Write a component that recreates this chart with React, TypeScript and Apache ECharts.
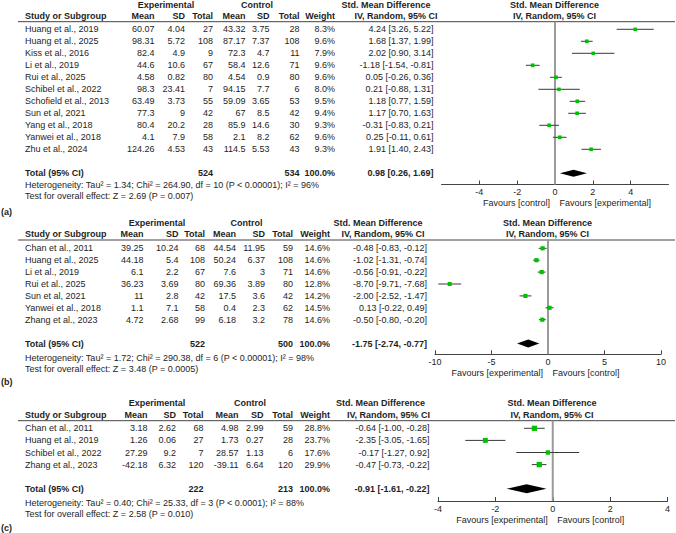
import React, { useEffect, useRef } from "react";
import * as echarts from "echarts";

// ---------- (a) ----------
const studiesA = ["Huang et al., 2019", "Huang et al., 2025", "Kiss et al., 2016", "Li et al., 2019", "Rui et al., 2025", "Schibel et al., 2022", "Schofield et al., 2013", "Sun et al, 2021", "Yang et al., 2018", "Yanwei et al., 2018", "Zhu et al., 2024"];
const expMeanA = [60.07, 98.31, 82.4, 44.6, 4.58, 98.3, 63.49, 77.3, 80.4, 4.1, 124.26];
const expSdA = [4.04, 5.72, 4.9, 10.6, 0.82, 23.41, 3.73, 9, 20.2, 7.9, 4.53];
const expNA = [27, 108, 9, 67, 80, 7, 55, 42, 28, 58, 43];
const ctlMeanA = [43.32, 87.17, 72.3, 58.4, 4.54, 94.15, 59.09, 67, 85.9, 2.1, 114.5];
const ctlSdA = [3.75, 7.37, 4.7, 12.6, 0.9, 7.7, 3.65, 8.5, 14.6, 8.2, 5.53];
const ctlNA = [28, 108, 11, 71, 80, 6, 53, 42, 30, 62, 43];
const weightA = [8.3, 9.6, 7.9, 9.6, 9.6, 8.0, 9.5, 9.4, 9.3, 9.6, 9.3];
const smdA = [4.24, 1.68, 2.02, -1.18, 0.05, 0.21, 1.18, 1.17, -0.31, 0.25, 1.91];
const lowA = [3.26, 1.37, 0.9, -1.54, -0.26, -0.88, 0.77, 0.7, -0.83, -0.11, 1.4];
const highA = [5.22, 1.99, 3.14, -0.81, 0.36, 1.31, 1.59, 1.63, 0.21, 0.61, 2.43];
const totalsA = [524, 534];
const pooledA = [0.98, 0.26, 1.69];
const hetA = "Heterogeneity: Tau\u00b2 = 1.34; Chi\u00b2 = 264.90, df = 10 (P < 0.00001); I\u00b2 = 96%";
const testA = "Test for overall effect: Z = 2.69 (P = 0.007)";
const ticksA = [-4, -2, 0, 2, 4];
const favoursA = ["Favours [control]", "Favours [experimental]"];

// ---------- (b) ----------
const studiesB = ["Chan et al., 2011", "Huang et al., 2025", "Li et al., 2019", "Rui et al., 2025", "Sun et al, 2021", "Yanwei et al., 2018", "Zhang et al., 2023"];
const expMeanB = [39.25, 44.18, 6.1, 36.23, 11, 1.1, 4.72];
const expSdB = [10.24, 5.4, 2.2, 3.69, 2.8, 7.1, 2.68];
const expNB = [68, 108, 67, 80, 42, 58, 99];
const ctlMeanB = [44.54, 50.24, 7.6, 69.36, 17.5, 0.4, 6.18];
const ctlSdB = [11.95, 6.37, 3, 3.89, 3.6, 2.3, 3.2];
const ctlNB = [59, 108, 71, 80, 42, 62, 78];
const weightB = [14.6, 14.6, 14.6, 12.8, 14.2, 14.5, 14.6];
const smdB = [-0.48, -1.02, -0.56, -8.7, -2.0, 0.13, -0.5];
const lowB = [-0.83, -1.31, -0.91, -9.71, -2.52, -0.22, -0.8];
const highB = [-0.12, -0.74, -0.22, -7.68, -1.47, 0.49, -0.2];
const totalsB = [522, 500];
const pooledB = [-1.75, -2.74, -0.77];
const hetB = "Heterogeneity: Tau\u00b2 = 1.72; Chi\u00b2 = 290.38, df = 6 (P < 0.00001); I\u00b2 = 98%";
const testB = "Test for overall effect: Z = 3.48 (P = 0.0005)";
const ticksB = [-10, -5, 0, 5, 10];
const favoursB = ["Favours [experimental]", "Favours [control]"];

// ---------- (c) ----------
const studiesC = ["Chan et al., 2011", "Huang et al., 2019", "Schibel et al., 2022", "Zhang et al., 2023"];
const expMeanC = [3.18, 1.26, 27.29, -42.18];
const expSdC = [2.62, 0.06, 9.2, 6.32];
const expNC = [68, 27, 7, 120];
const ctlMeanC = [4.98, 1.73, 28.57, -39.11];
const ctlSdC = [2.99, 0.27, 1.13, 6.64];
const ctlNC = [59, 28, 6, 120];
const weightC = [28.8, 23.7, 17.6, 29.9];
const smdC = [-0.64, -2.35, -0.17, -0.47];
const lowC = [-1.0, -3.05, -1.27, -0.73];
const highC = [-0.28, -1.65, 0.92, -0.22];
const totalsC = [222, 213];
const pooledC = [-0.91, -1.61, -0.22];
const hetC = "Heterogeneity: Tau\u00b2 = 0.40; Chi\u00b2 = 25.33, df = 3 (P < 0.0001); I\u00b2 = 88%";
const testC = "Test for overall effect: Z = 2.58 (P = 0.010)";
const ticksC = [-4, -2, 0, 2, 4];
const favoursC = ["Favours [experimental]", "Favours [control]"];

const panelTags = ["(a)", "(b)", "(c)"];

const panels = [
  { studies: studiesA, expMean: expMeanA, expSd: expSdA, expN: expNA, ctlMean: ctlMeanA, ctlSd: ctlSdA, ctlN: ctlNA, weight: weightA, smd: smdA, low: lowA, high: highA, totals: totalsA, pooled: pooledA, het: hetA, test: testA, ticks: ticksA, favours: favoursA },
  { studies: studiesB, expMean: expMeanB, expSd: expSdB, expN: expNB, ctlMean: ctlMeanB, ctlSd: ctlSdB, ctlN: ctlNB, weight: weightB, smd: smdB, low: lowB, high: highB, totals: totalsB, pooled: pooledB, het: hetB, test: testB, ticks: ticksB, favours: favoursB },
  { studies: studiesC, expMean: expMeanC, expSd: expSdC, expN: expNC, ctlMean: ctlMeanC, ctlSd: ctlSdC, ctlN: ctlNC, weight: weightC, smd: smdC, low: lowC, high: highC, totals: totalsC, pooled: pooledC, het: hetC, test: testC, ticks: ticksC, favours: favoursC },
];

// Page geometry of each panel (pixels)
const layouts = [
  { head1: 5, head2: 15.8, lineY: 21.7, row0: 29.3, step: 12, axisY: 184.5, hetY: 185, testY: 196, tagY: 211.5,
    cols: [154.5, 185, 213, 245.5, 269.5, 299.5, 335], expC: 166, ctlC: 257, smdHeadC: 386, ivHeadC: 396, smdRight: 433.5,
    plotHeadC: 554.5, gridLeft: 441.5, gridRight: 668.5, xMin: -6, xMax: 6, interval: 2, diamondH: 7 },
  { head1: 222.7, head2: 234.3, lineY: 240, row0: 248.3, step: 11.9, axisY: 354.3, hetY: 357.7, testY: 369.3, tagY: 381.7,
    cols: [143.5, 178.5, 205, 236, 265, 293, 330], expC: 157, ctlC: 246.5, smdHeadC: 378, ivHeadC: 383, smdRight: 427,
    plotHeadC: 547.5, gridLeft: 435, gridRight: 661, xMin: -10, xMax: 10, interval: 5, diamondH: 8 },
  { head1: 402.7, head2: 415, lineY: 420.7, row0: 428.3, step: 12.1, axisY: 501, hetY: 502.7, testY: 514.3, tagY: 528.3,
    cols: [147.5, 176, 203.5, 238.5, 263.5, 293, 330], expC: 157, ctlC: 250, smdHeadC: 380.5, ivHeadC: 388.5, smdRight: 429.5,
    plotHeadC: 552, gridLeft: 438, gridRight: 667.5, xMin: -4, xMax: 4, interval: 2, diamondH: 9 },
];

const FONT = '"Liberation Sans", Arial, Helvetica, sans-serif';
const INK = "#1e1e1e";
const STUDY_X = 25;

function txt(x: number, y: number, text: string, align: string, bold = false, size = 9) {
  return {
    type: "text",
    x,
    y,
    silent: true,
    style: {
      text,
      fill: INK,
      fontSize: size,
      fontFamily: FONT,
      fontWeight: bold ? "bold" : "normal",
      textAlign: align,
      align,
      textVerticalAlign: "middle",
      verticalAlign: "middle",
    },
  };
}

const ci = (m: number, l: number, h: number) => `${m.toFixed(2)} [${l.toFixed(2)}, ${h.toFixed(2)}]`;
const squareSize = (w: number) => 1.5 + Math.sqrt(w) * 0.7;

function buildOption() {
  const graphics: any[] = [];
  const grids: any[] = [];
  const xAxes: any[] = [];
  const yAxes: any[] = [];
  const series: any[] = [];

  panels.forEach((p, k) => {
    const L = layouts[k];
    const n = p.studies.length;
    const rowY = (i: number) => L.row0 + i * L.step;
    const yMin = -(L.row0 - L.lineY) / L.step;
    const yMax = (L.axisY - L.row0) / L.step;
    const zeroX = L.gridLeft + ((0 - L.xMin) / (L.xMax - L.xMin)) * (L.gridRight - L.gridLeft);

    // column headers
    graphics.push(txt(L.expC, L.head1, "Experimental", "center", true));
    graphics.push(txt(L.ctlC, L.head1, "Control", "center", true));
    graphics.push(txt(L.smdHeadC, L.head1, "Std. Mean Difference", "center", true));
    graphics.push(txt(L.plotHeadC, L.head1, "Std. Mean Difference", "center", true));
    graphics.push(txt(STUDY_X, L.head2, "Study or Subgroup", "left", true));
    ["Mean", "SD", "Total", "Mean", "SD", "Total", "Weight"].forEach((h, c) =>
      graphics.push(txt(L.cols[c], L.head2, h, "right", true))
    );
    graphics.push(txt(L.ivHeadC, L.head2, "IV, Random, 95% CI", "center", true));
    graphics.push(txt(L.plotHeadC, L.head2, "IV, Random, 95% CI", "center", true));
    graphics.push({
      type: "line",
      silent: true,
      shape: { x1: 18, y1: L.lineY, x2: 675, y2: L.lineY },
      style: { stroke: "#444", lineWidth: 1 },
    });

    // study rows
    p.studies.forEach((s, i) => {
      const y = rowY(i);
      graphics.push(txt(STUDY_X, y, s, "left"));
      const vals = [p.expMean[i], p.expSd[i], p.expN[i], p.ctlMean[i], p.ctlSd[i], p.ctlN[i]];
      vals.forEach((v, c) => graphics.push(txt(L.cols[c], y, String(v), "right")));
      graphics.push(txt(L.cols[6], y, `${p.weight[i].toFixed(1)}%`, "right"));
      graphics.push(txt(L.smdRight, y, ci(p.smd[i], p.low[i], p.high[i]), "right"));
    });

    // totals
    const ty = rowY(n + 1);
    graphics.push(txt(STUDY_X, ty, "Total (95% CI)", "left", true));
    graphics.push(txt(L.cols[2], ty, String(p.totals[0]), "right", true));
    graphics.push(txt(L.cols[5], ty, String(p.totals[1]), "right", true));
    graphics.push(txt(L.cols[6], ty, "100.0%", "right", true));
    graphics.push(txt(L.smdRight, ty, ci(p.pooled[0], p.pooled[1], p.pooled[2]), "right", true));
    graphics.push(txt(STUDY_X, L.hetY, p.het, "left"));
    graphics.push(txt(STUDY_X, L.testY, p.test, "left"));
    graphics.push(txt(1, L.tagY, panelTags[k], "left", true));

    // favours labels
    const favY = L.axisY + 18.5;
    graphics.push(txt(zeroX - 5, favY, p.favours[0], "right", false, 9));
    graphics.push(txt(zeroX + 4.5, favY, p.favours[1], "left", false, 9));

    // plot area
    grids.push({
      left: L.gridLeft,
      top: L.lineY,
      width: L.gridRight - L.gridLeft,
      height: L.axisY - L.lineY,
      containLabel: false,
    });
    xAxes.push({
      type: "value",
      gridIndex: k,
      min: L.xMin,
      max: L.xMax,
      interval: L.interval,
      splitLine: { show: false },
      axisLine: { show: true, onZero: false, lineStyle: { color: "#444", width: 1 } },
      axisTick: { show: true, inside: true, length: 4, customValues: p.ticks, lineStyle: { color: "#444", width: 1 } },
      axisLabel: {
        show: true,
        customValues: p.ticks,
        margin: 3,
        fontSize: 9,
        fontFamily: FONT,
        color: INK,
        formatter: (v: number) => String(v),
      },
    });
    yAxes.push({
      type: "value",
      gridIndex: k,
      inverse: true,
      min: yMin,
      max: yMax,
      show: false,
    });

    // pooled estimate diamond, drawn over the line of no effect
    series.push({
      type: "custom",
      xAxisIndex: k,
      yAxisIndex: k,
      silent: true,
      z: 1,
      data: [[n + 1, p.pooled[0], p.pooled[1], p.pooled[2]]],
      encode: { x: [1, 2, 3], y: 0 },
      renderItem: (_params: any, api: any) => {
        const row = api.value(0);
        const c = api.coord([api.value(1), row]);
        const lo = api.coord([api.value(2), row]);
        const hi = api.coord([api.value(3), row]);
        const top = api.coord([0, yMin]);
        const bottom = api.coord([0, yMax]);
        const h = L.diamondH / 2;
        return {
          type: "group",
          children: [
            {
              type: "rect",
              shape: { x: top[0] - 1, y: top[1], width: 2, height: bottom[1] - top[1] },
              style: { fill: "#9a9a9a" },
            },
            {
              type: "polygon",
              shape: { points: [[lo[0], lo[1]], [c[0], c[1] - h], [hi[0], hi[1]], [c[0], c[1] + h]] },
              style: { fill: "#000" },
            },
          ],
        };
      },
    });

    const studyData = p.studies.map((_, i) => [i, p.smd[i], p.low[i], p.high[i], p.weight[i]]);
    series.push({
      type: "custom",
      xAxisIndex: k,
      yAxisIndex: k,
      silent: true,
      z: 2,
      data: studyData,
      encode: { x: [1, 2, 3], y: 0 },
      renderItem: (_params: any, api: any) => {
        const row = api.value(0);
        const est = api.coord([api.value(1), row]);
        const lo = api.coord([api.value(2), row]);
        const hi = api.coord([api.value(3), row]);
        const sz = squareSize(api.value(4));
        return {
          type: "group",
          children: [
            {
              type: "line",
              shape: { x1: lo[0], y1: lo[1], x2: hi[0], y2: hi[1] },
              style: { stroke: "#3a3a3a", lineWidth: 1 },
            },
            {
              type: "rect",
              shape: { x: est[0] - sz / 2, y: est[1] - sz / 2, width: sz, height: sz },
              style: { fill: "#00c000" },
            },
          ],
        };
      },
    });
  });

  return {
    animation: false,
    backgroundColor: "#ffffff",
    grid: grids,
    xAxis: xAxes,
    yAxis: yAxes,
    series,
    graphic: { elements: graphics },
  };
}

export default function App() {
  const ref = useRef<HTMLDivElement>(null);
  useEffect(() => {
    if (!ref.current) return;
    const chart = echarts.init(ref.current, undefined, { renderer: "svg" });
    chart.setOption(buildOption() as any);
    return () => chart.dispose();
  }, []);
  return (
    <div
      ref={ref}
      style={{ position: "absolute", left: 0, top: 0, width: 676, height: 533, background: "#fff" }}
    />
  );
}
